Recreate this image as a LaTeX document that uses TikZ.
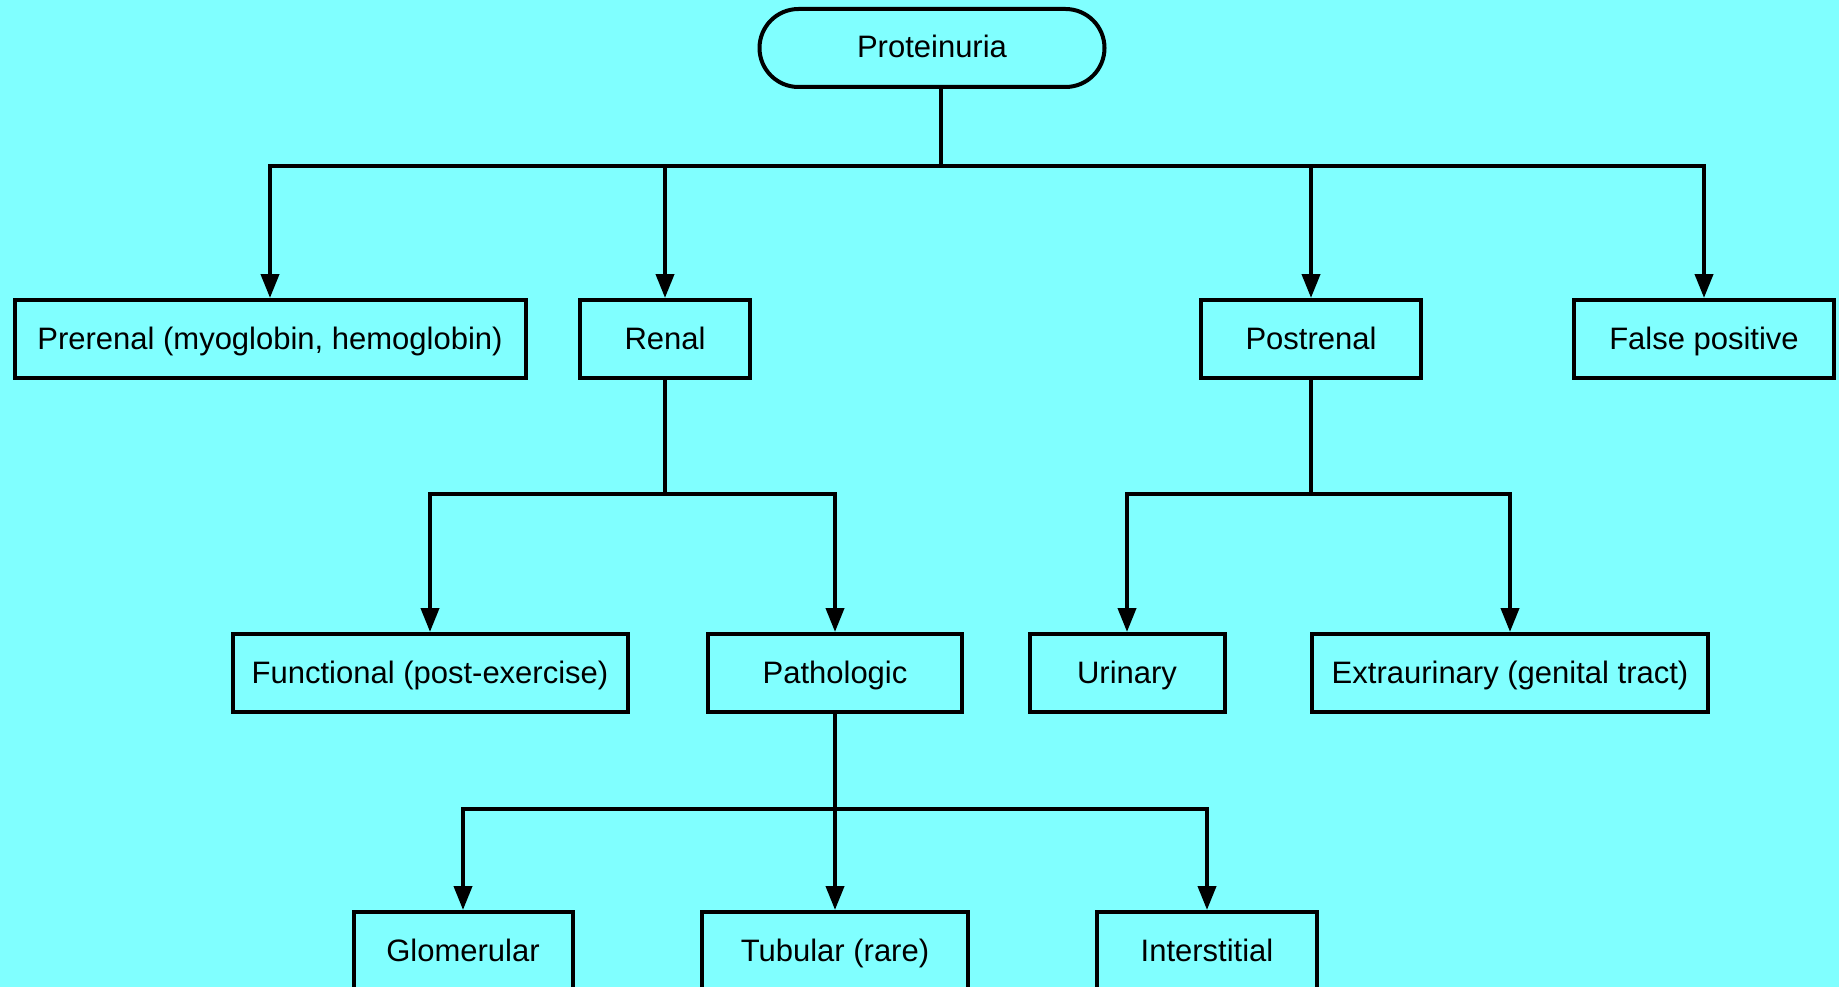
\documentclass[tikz,border=0pt]{standalone}
\usepackage{fontspec}
\setmainfont{Liberation Sans}
\usetikzlibrary{arrows.meta, positioning}
\definecolor{bgcyan}{HTML}{80FFFF}

\begin{document}
\begin{tikzpicture}[
  x=1pt, y=-1pt,
  box/.style={draw, line width=4pt, fill=bgcyan, align=center,
    minimum height=78pt, inner sep=0pt, text height=25pt, text depth=5pt,
    font=\fontsize{31}{36}\selectfont},
  pill/.style={box, rounded corners=39pt},
  wire/.style={line width=4pt, line cap=rect},
  arr/.style={-{Triangle[length=24pt, width=18pt]}, line width=4pt}
]
\fill[bgcyan] (0,0) rectangle (1839,987);
\clip (0,0) rectangle (1839,987);

\node[pill, minimum width=345pt] (prot) at (932,48) {Proteinuria};

\node[box, minimum width=511pt] (prerenal) at (270,339) {Prerenal (myoglobin, hemoglobin)};
\node[box, minimum width=170pt] (renal) at (665,339) {Renal};
\node[box, minimum width=220pt] (postrenal) at (1311,339) {Postrenal};
\node[box, minimum width=260pt] (falsepos) at (1704,339) {False positive};

\node[box, minimum width=395pt] (functional) at (430,673) {Functional (post-exercise)};
\node[box, minimum width=254pt] (pathologic) at (835,673) {Pathologic};
\node[box, minimum width=195pt] (urinary) at (1127,673) {Urinary};
\node[box, minimum width=396pt] (extra) at (1510,673) {Extraurinary (genital tract)};

\node[box, minimum width=219pt] (glom) at (463,951) {Glomerular};
\node[box, minimum width=266pt] (tubular) at (835,951) {Tubular (rare)};
\node[box, minimum width=220pt] (inter) at (1207,951) {Interstitial};

% bus lines
\coordinate (bus1) at (941,166);
\coordinate (bus2) at (665,494);
\coordinate (bus3) at (1311,494);
\coordinate (bus4) at (835,809);

\draw[wire] (prot.south -| bus1) -- (bus1);
\draw[wire] (prerenal.north |- bus1) -- (falsepos.north |- bus1);
\draw[arr] (prerenal.north |- bus1) -- (prerenal.north);
\draw[arr] (renal.north |- bus1) -- (renal.north);
\draw[arr] (postrenal.north |- bus1) -- (postrenal.north);
\draw[arr] (falsepos.north |- bus1) -- (falsepos.north);

\draw[wire] (renal.south) -- (bus2);
\draw[wire] (functional.north |- bus2) -- (pathologic.north |- bus2);
\draw[arr] (functional.north |- bus2) -- (functional.north);
\draw[arr] (pathologic.north |- bus2) -- (pathologic.north);

\draw[wire] (postrenal.south) -- (bus3);
\draw[wire] (urinary.north |- bus3) -- (extra.north |- bus3);
\draw[arr] (urinary.north |- bus3) -- (urinary.north);
\draw[arr] (extra.north |- bus3) -- (extra.north);

\draw[wire] (glom.north |- bus4) -- (inter.north |- bus4);
\draw[arr] (pathologic.south) -- (tubular.north);
\draw[arr] (glom.north |- bus4) -- (glom.north);
\draw[arr] (inter.north |- bus4) -- (inter.north);
\end{tikzpicture}
\end{document}
